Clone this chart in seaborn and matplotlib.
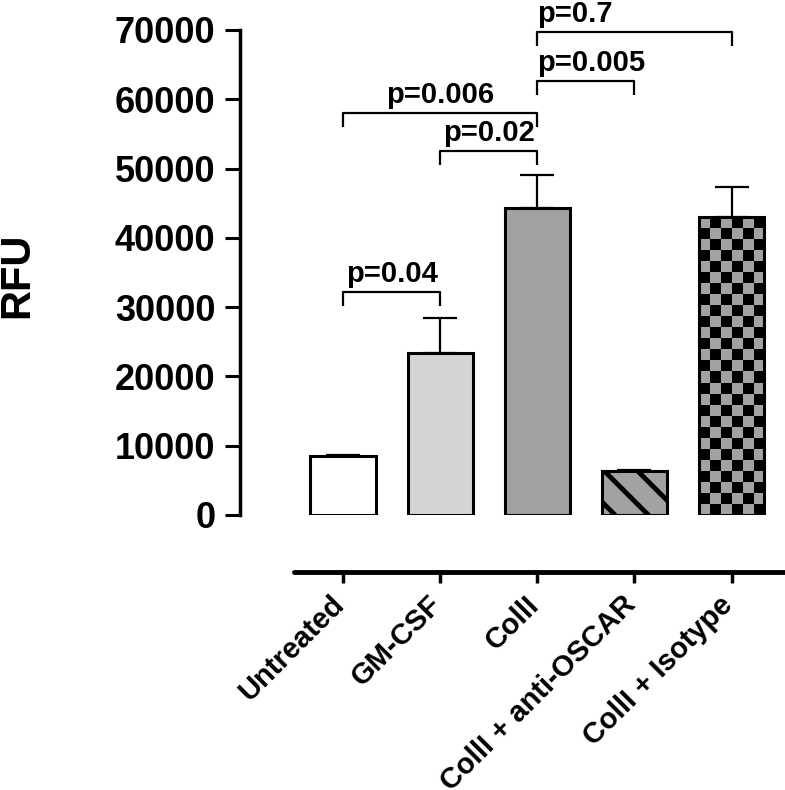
import numpy as np
import pandas as pd
import matplotlib
matplotlib.use("Agg")
import matplotlib.pyplot as plt
from matplotlib.colors import ListedColormap
from matplotlib.transforms import ScaledTranslation
import seaborn as sns

# ---------------- data ----------------
categories = ["Untreated", "GM-CSF", "CollI", "CollI + anti-OSCAR", "CollI + Isotype"]
means = [8500, 23400, 44350, 6400, 43000]
sems = [150, 5000, 4700, 150, 4300]
fill_colors = ["#ffffff", "#d4d4d4", "#a2a2a2", "#a2a2a2", "#a2a2a2"]
yticks = [0, 10000, 20000, 30000, 40000, 50000, 60000, 70000]

bracket_left = [0, 1, 0, 2, 2]
bracket_right = [1, 2, 2, 3, 4]
bracket_y = [32230, 52530, 58060, 62640, 69670]
p_labels = ["p=0.04", "p=0.02", "p=0.006", "p=0.005", "p=0.7"]
p_align = ["center", "center", "center", "left", "left"]

# ---------------- style ----------------
sns.set_style("ticks")
plt.rcParams["font.family"] = ["Liberation Sans", "DejaVu Sans"]
plt.rcParams["font.weight"] = "bold"
plt.rcParams["hatch.linewidth"] = 3.5
for k in ["text.color", "axes.labelcolor", "xtick.color", "ytick.color", "axes.edgecolor"]:
    plt.rcParams[k] = "black"

DPI = 100
fig = plt.figure(figsize=(7.85, 7.90), dpi=DPI)
ax = fig.add_axes([294 / 785, (790 - 515) / 790, (785 - 294) / 785, 515 / 790])

df = pd.DataFrame({"group": categories, "rfu": means})
sns.barplot(data=df, x="group", y="rfu", hue="group", palette=fill_colors,
            order=categories, hue_order=categories, width=0.672,
            edgecolor="black", linewidth=2.2, legend=False, ax=ax, zorder=2)

ax.errorbar(x=np.arange(len(categories)), y=means,
            yerr=[np.zeros(len(sems)), sems], fmt="none", ecolor="black",
            elinewidth=1.6, capsize=12, capthick=1.6, zorder=1)

# limits
xl = (-0.505, 4.55)
yl = (0, 74325)
ax.set_xlim(*xl)
ax.set_ylim(*yl)

bars = ax.patches[:len(categories)]
# diagonal stripes
bars[3].set_hatch("\\")
# checkerboard for isotype bar
bar = bars[4]
x0, w, h = bar.get_x(), bar.get_width(), bar.get_height()
p0 = ax.transData.transform((x0, 0))
p1 = ax.transData.transform((x0 + w, h))
wpx, hpx = p1[0] - p0[0], p1[1] - p0[1]
ncols = 6
nrows = int(round(hpx / (wpx / ncols)))
board = np.add.outer(np.arange(nrows), np.arange(ncols)) % 2
bar.set_facecolor("none")
im = ax.imshow(board, cmap=ListedColormap(["#a2a2a2", "#000000"]),
               extent=(x0, x0 + w, 0, h), origin="upper", aspect="auto",
               interpolation="nearest", zorder=bar.get_zorder() - 0.1)
im.set_clip_path(bar)
ax.set_xlim(*xl)
ax.set_ylim(*yl)

# significance brackets
drop = 2050
for l, r, y, lab, al in zip(bracket_left, bracket_right, bracket_y, p_labels, p_align):
    ax.plot([l, l, r, r], [y - drop, y, y, y - drop], color="black", lw=1.6,
            solid_capstyle="butt", zorder=3, clip_on=False)
    tx = (l + r) / 2 if al == "center" else l
    ax.annotate(lab, xy=(tx, y), xytext=(0, 3), textcoords="offset points",
                ha=al, va="bottom", fontsize=21, fontweight="bold", color="black")

# axes styling
for s in ["top", "right"]:
    ax.spines[s].set_visible(False)
ax.spines["left"].set_position(("outward", 54 * 72 / DPI))
ax.spines["bottom"].set_position(("outward", 57 * 72 / DPI))
ax.spines["left"].set_bounds(0, 70000)
ax.spines["left"].set_linewidth(2.5)
ax.spines["bottom"].set_linewidth(3.5)
ax.spines["bottom"].set_capstyle("round")
ax.set_yticks(yticks)
ax.set_yticklabels([str(v) for v in yticks])
ax.tick_params(axis="y", length=10.8, width=2.2, pad=7, labelsize=26, colors="black")
ax.set_xticks(np.arange(len(categories)))
ax.set_xticklabels(categories, rotation=45, ha="right", va="center_baseline",
                   rotation_mode="anchor", fontsize=21, fontweight="bold")
ax.tick_params(axis="x", length=8, width=2.5, pad=11, colors="black")
shift = ScaledTranslation(-5 / DPI, 0, fig.dpi_scale_trans)
for t in ax.get_xticklabels():
    t.set_transform(t.get_transform() + shift)
for t in ax.get_yticklabels():
    t.set_fontweight("bold")

ax.set_xlabel("")
ax.set_ylabel("RFU", fontsize=30, fontweight="bold")
ax.yaxis.label.set_va("center")
ax.yaxis.set_label_coords((17 - 294) / 491, (515 - 275) / 515)

fig.savefig("out.png", dpi=DPI)
